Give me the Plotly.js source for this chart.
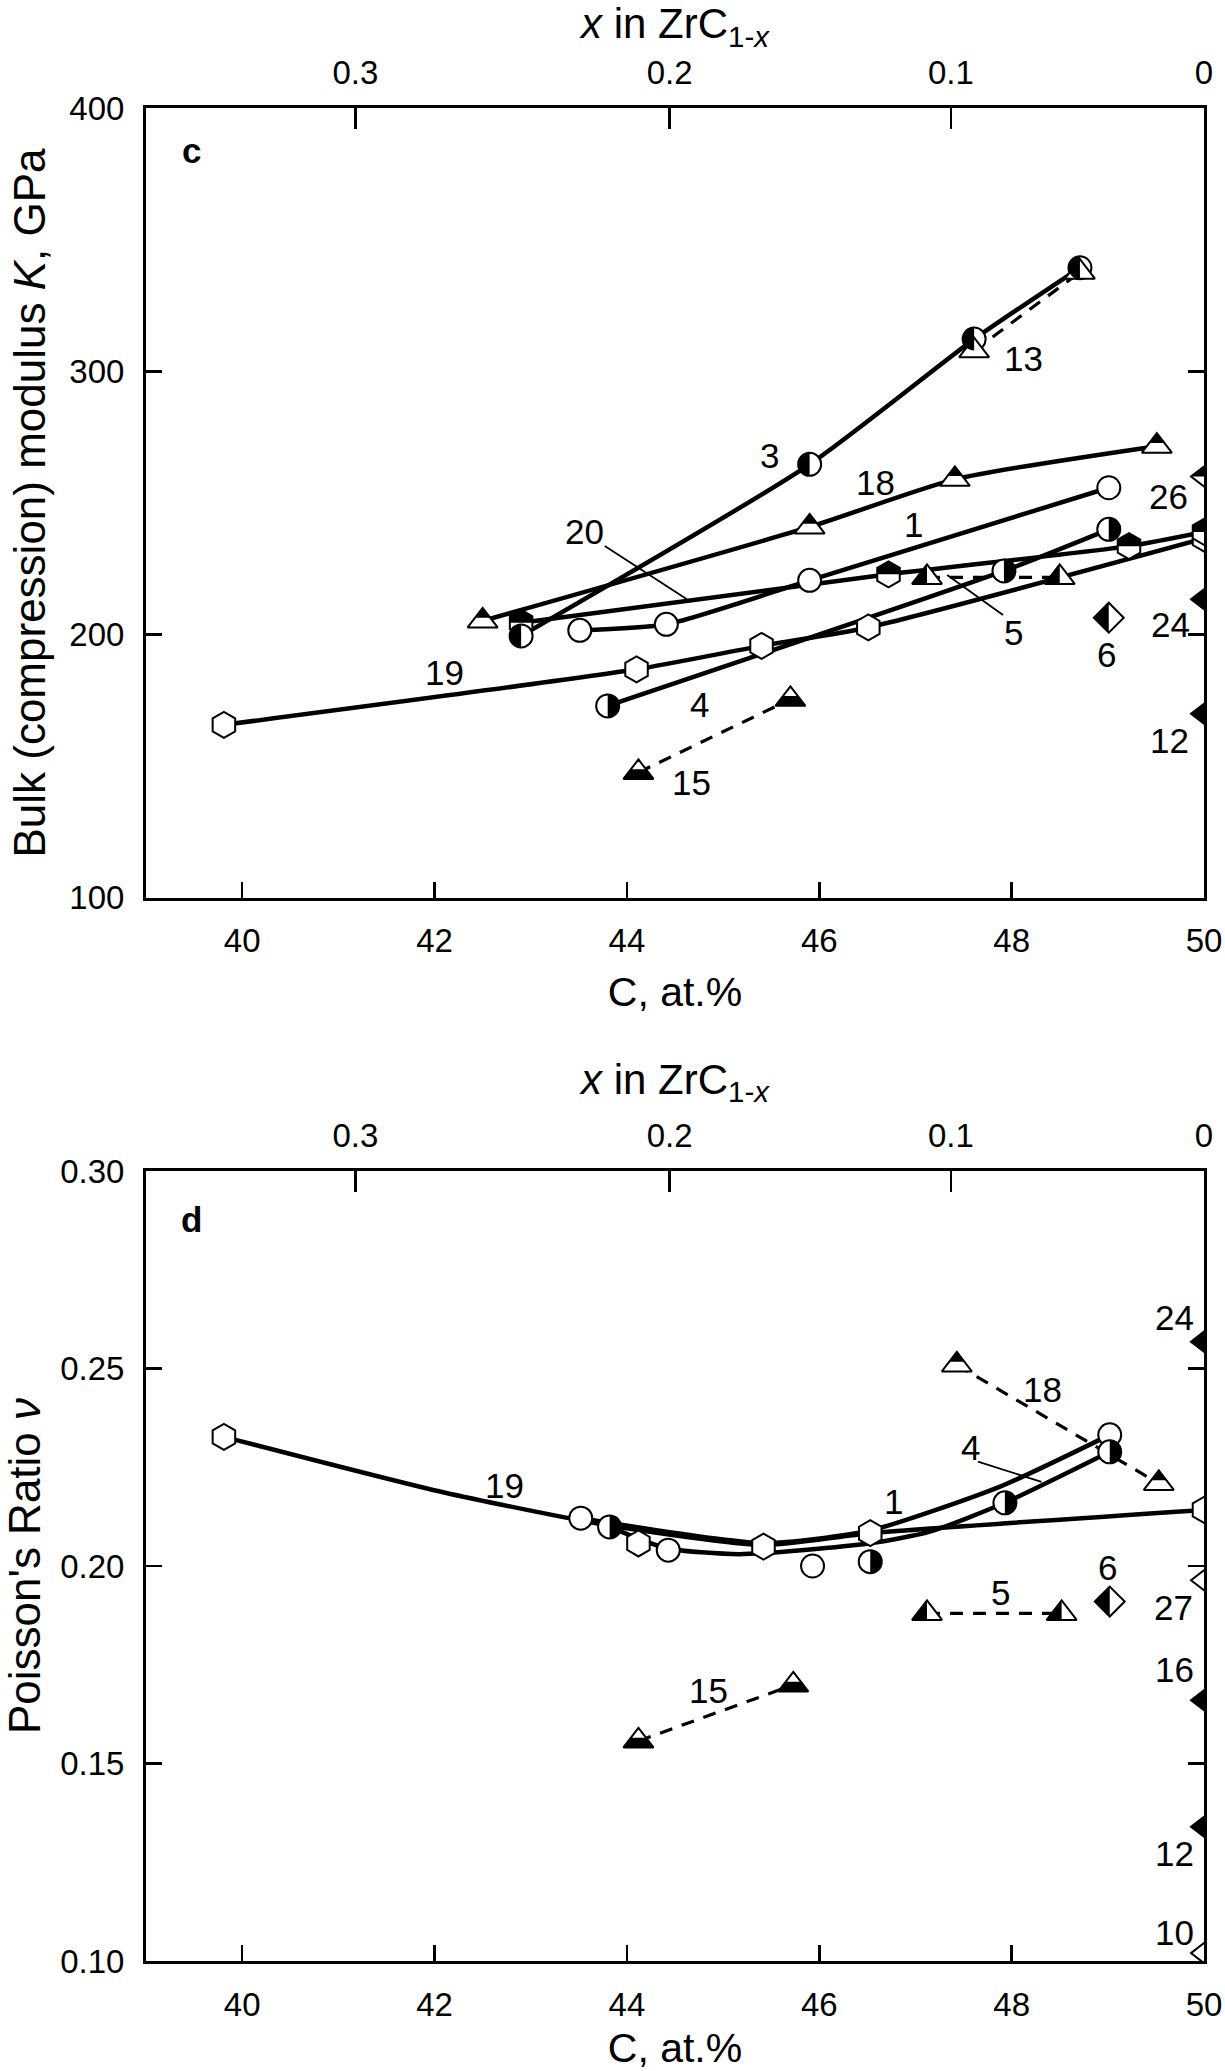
<!DOCTYPE html>
<html>
<head>
<meta charset="utf-8">
<script src="https://cdn.plot.ly/plotly-3.0.1.min.js"></script>
<style>
html,body{margin:0;padding:0;background:#ffffff;}
#chart{width:1225px;height:2071px;}
</style>
</head>
<body>
<div id="chart"></div>
<script>
// ---------------- Data ----------------
const xTickVals = [40, 42, 44, 46, 48, 50];          // C, at.%
const topTickX = [0.3, 0.2, 0.1, 0];                 // x in ZrC1-x
const kTickVals = [100, 200, 300, 400];
const nuTickVals = [0.10, 0.15, 0.20, 0.25, 0.30];

// Panel c : bulk modulus K, GPa
const c1_C  = [43.51, 44.41, 45.90, 49.01];        const c1_K  = [201.6, 203.9, 220.6, 255.8];
const c3_C  = [42.90, 45.90, 47.61, 48.71];        const c3_K  = [199.5, 264.7, 312.3, 339.4];
const c4_C  = [43.80, 47.92, 49.01];               const c4_K  = [172.9, 224.2, 240.0];
const c5_C  = [47.12, 48.50];                      const c5_K  = [221.7, 221.7];
const c6_C  = [49.01];                             const c6_K  = [206.4];
const c12_C = [50.00];                             const c12_K = [169.9];
const c13_C = [47.61, 48.71];                      const c13_K = [307.9, 337.7];
const c15_C = [44.12, 45.70];                      const c15_K = [147.6, 175.4];
const c18_C = [42.50, 45.90, 47.41, 49.51];        const c18_K = [205.2, 240.9, 259.0, 271.6];
const c19_C = [39.81, 44.10, 45.40, 46.51, 50.00]; const c19_K = [165.7, 186.8, 195.7, 202.7, 236.5];
const c20_C = [42.90, 46.72, 49.22, 50.00];        const c20_K = [204.5, 222.9, 233.6, 239.0];
const c24_C = [50.00];                             const c24_K = [213.4];
const c26_C = [50.00];                             const c26_K = [260.1];

const cLabelText = ['3', '13', '18', '1', '20', '26', '5', '6', '24', '19', '4', '15', '12'];
const cLabelC    = [45.48, 48.12, 46.58, 46.98, 43.56, 49.63, 48.02, 48.99, 49.65, 42.10, 44.75, 44.67, 49.64];
const cLabelK    = [268.0, 304.9, 257.6, 242.0, 239.3, 252.4, 200.6, 192.3, 203.8, 185.5, 173.4, 143.8, 159.9];
const cLeaderC   = [[43.77, 44.62], [47.33, 47.91]];   // leaders for "20" and "5"
const cLeaderK   = [[233.7, 213.5], [222.6, 207.4]];

// Panel d : Poisson's ratio
const d1_C  = [43.52, 44.43, 45.93, 49.02];        const d1_nu = [0.2121, 0.2040, 0.2000, 0.2332];
const d1_curveC  = [43.52, 45.42, 46.53, 47.88, 49.02];
const d1_curveNu = [0.2121, 0.2058, 0.2090, 0.2201, 0.2332];
const d4_C  = [43.82, 46.53, 47.93, 49.02];        const d4_nu = [0.2099, 0.2011, 0.2160, 0.2289];
const d4_curveC  = [43.82, 44.41, 45.17, 46.51, 47.15, 47.93, 49.02];
const d4_curveNu = [0.2099, 0.2045, 0.2030, 0.2057, 0.2087, 0.2160, 0.2289];
const d5_C  = [47.12, 48.52];                      const d5_nu = [0.1880, 0.1880];
const d6_C  = [49.02];                             const d6_nu = [0.1910];
const d10_C = [50.00];                             const d10_nu = [0.1020];
const d12_C = [50.00];                             const d12_nu = [0.1340];
const d15_C = [44.12, 45.73];                      const d15_nu = [0.1557, 0.1699];
const d16_C = [50.00];                             const d16_nu = [0.1660];
const d18_C = [47.43, 49.53];                      const d18_nu = [0.2509, 0.2209];
const d19_C = [39.81, 44.12, 45.42, 46.53, 50.00]; const d19_nu = [0.2327, 0.2057, 0.2049, 0.2083, 0.2142];
const d19_curveC  = [39.81, 42.10, 43.80, 45.42, 46.53, 50.00];
const d19_curveNu = [0.2327, 0.2186, 0.2103, 0.2053, 0.2083, 0.2142];
const d24_C = [50.00];                             const d24_nu = [0.2568];
const d27_C = [50.00];                             const d27_nu = [0.1964];

const dLabelText = ['19', '1', '18', '4', '5', '6', '27', '24', '16', '12', '10', '15'];
const dLabelC    = [42.73, 46.77, 48.32, 47.57, 47.88, 49.00, 49.68, 49.69, 49.69, 49.69, 49.69, 44.85];
const dLabelNu   = [0.2203, 0.2163, 0.2446, 0.2299, 0.1934, 0.1995, 0.1894, 0.2629, 0.1739, 0.1271, 0.1073, 0.1686];
const dLeaderC   = [[47.65, 48.31]];                 // leader for "4"
const dLeaderNu  = [[0.2264, 0.2213]];

// ---------------- Styling helpers ----------------
const FONT = 'Liberation Sans, Arial, Helvetica, sans-serif';
const SZ = {circle: 23, hexagon: 26, 'triangle-up': 26, diamond: 23, 'triangle-left': 26};

function topCfromX(x) { return 100 * (1 - x) / (2 - x); }   // at.% C for ZrC(1-x)

const traces = [];
const shapes = [];
const annotations = [];

function lineTrace(xs, ys, xa, ya, dashed) {
  traces.push({
    type: 'scatter', mode: 'lines', x: xs, y: ys, xaxis: xa, yaxis: ya,
    line: dashed ? {color: '#000', width: 3.2, dash: '13px,10px'}
                 : {color: '#000', width: 4.5, shape: 'spline', smoothing: 0.6},
    hoverinfo: 'skip', showlegend: false
  });
}

function f2(v) { return (Math.abs(v) < 0.005 ? 0 : v).toFixed(2); }

function halfPath(sym, part) {
  const r = SZ[sym] / 2;
  const rt = r * 2 / Math.sqrt(3);
  if (sym === 'circle') {
    const k = 0.5523 * r, s = part === 'left' ? -1 : 1;
    return 'M 0 ' + f2(r) + ' C ' + f2(s * k) + ' ' + f2(r) + ' ' + f2(s * r) + ' ' + f2(k) + ' ' + f2(s * r) + ' 0' +
           ' C ' + f2(s * r) + ' ' + f2(-k) + ' ' + f2(s * k) + ' ' + f2(-r) + ' 0 ' + f2(-r) + ' Z';
  }
  if (sym === 'triangle-up') {
    if (part === 'top') return 'M 0 ' + f2(r) + ' L ' + f2(rt / 2) + ' ' + f2(r / 4) + ' L ' + f2(-rt / 2) + ' ' + f2(r / 4) + ' Z';
    if (part === 'bottom') return 'M ' + f2(-rt) + ' ' + f2(-r / 2) + ' L ' + f2(rt) + ' ' + f2(-r / 2) + ' L ' + f2(rt / 2) + ' ' + f2(r / 4) + ' L ' + f2(-rt / 2) + ' ' + f2(r / 4) + ' Z';
    if (part === 'left') return 'M 0 ' + f2(r) + ' L 0 ' + f2(-r / 2) + ' L ' + f2(-rt) + ' ' + f2(-r / 2) + ' Z';
  }
  if (sym === 'hexagon') {
    const x = r * Math.sqrt(3) / 2;
    return 'M ' + f2(x) + ' 0 L ' + f2(x) + ' ' + f2(r / 2) + ' L 0 ' + f2(r) + ' L ' + f2(-x) + ' ' + f2(r / 2) + ' L ' + f2(-x) + ' 0 Z';
  }
  if (sym === 'diamond') {
    const rd = 1.3 * r;
    return 'M 0 ' + f2(rd) + ' L ' + f2(-rd) + ' 0 L 0 ' + f2(-rd) + ' Z';
  }
  if (sym === 'triangle-left') {
    return 'M ' + f2(r / 2) + ' ' + f2(rt) + ' L ' + f2(r / 2) + ' 0 L ' + f2(-r) + ' 0 Z';
  }
  return '';
}

function markerTrace(xs, ys, xa, ya, sym, fill, half) {
  traces.push({
    type: 'scatter', mode: 'markers', x: xs, y: ys, xaxis: xa, yaxis: ya, cliponaxis: true,
    marker: {symbol: sym, size: SZ[sym], color: fill, line: {color: '#000', width: 2}},
    hoverinfo: 'skip', showlegend: false
  });
  if (half) {
    const path = halfPath(sym, half);
    for (let i = 0; i < xs.length; i++) {
      shapes.push({
        type: 'path', xref: xa, yref: ya, xsizemode: 'pixel', ysizemode: 'pixel',
        xanchor: xs[i], yanchor: ys[i], path: path,
        fillcolor: '#000', line: {width: 0}, layer: 'above'
      });
    }
  }
}

function labels(texts, xs, ys, xa, ya) {
  for (let i = 0; i < texts.length; i++) {
    annotations.push({
      text: texts[i], x: xs[i], y: ys[i], xref: xa, yref: ya, showarrow: false,
      xanchor: 'center', yanchor: 'middle', font: {family: FONT, size: 35, color: '#000'}
    });
  }
}

function leaders(xsArr, ysArr, xa, ya) {
  for (let i = 0; i < xsArr.length; i++) {
    shapes.push({
      type: 'line', xref: xa, yref: ya, x0: xsArr[i][0], x1: xsArr[i][1], y0: ysArr[i][0], y1: ysArr[i][1],
      line: {color: '#000', width: 1.8}, layer: 'above'
    });
  }
}

// ---------------- Panel c ----------------
lineTrace(c19_C, c19_K, 'x', 'y');
lineTrace(c20_C, c20_K, 'x', 'y');
lineTrace(c1_C, c1_K, 'x', 'y');
lineTrace(c4_C, c4_K, 'x', 'y');
lineTrace(c18_C, c18_K, 'x', 'y');
lineTrace(c3_C, c3_K, 'x', 'y');
lineTrace(c13_C, c13_K, 'x', 'y', true);
lineTrace(c5_C, c5_K, 'x', 'y', true);
lineTrace(c15_C, c15_K, 'x', 'y', true);

markerTrace(c19_C, c19_K, 'x', 'y', 'hexagon', '#fff');
markerTrace(c20_C, c20_K, 'x', 'y', 'hexagon', '#fff', 'top');
markerTrace(c1_C, c1_K, 'x', 'y', 'circle', '#fff');
markerTrace(c4_C, c4_K, 'x', 'y', 'circle', '#fff', 'right');
markerTrace(c3_C, c3_K, 'x', 'y', 'circle', '#fff', 'left');
markerTrace(c13_C, c13_K, 'x', 'y', 'triangle-up', '#fff');
markerTrace(c18_C, c18_K, 'x', 'y', 'triangle-up', '#fff', 'top');
markerTrace(c5_C, c5_K, 'x', 'y', 'triangle-up', '#fff', 'left');
markerTrace(c15_C, c15_K, 'x', 'y', 'triangle-up', '#fff', 'bottom');
markerTrace(c6_C, c6_K, 'x', 'y', 'diamond', '#fff', 'left');
markerTrace(c26_C, c26_K, 'x', 'y', 'triangle-left', '#fff', 'top');
markerTrace(c24_C, c24_K, 'x', 'y', 'triangle-left', '#000');
markerTrace(c12_C, c12_K, 'x', 'y', 'triangle-left', '#000');

labels(cLabelText, cLabelC, cLabelK, 'x', 'y');
leaders(cLeaderC, cLeaderK, 'x', 'y');

// ---------------- Panel d ----------------
lineTrace(d19_curveC, d19_curveNu, 'x3', 'y2');
lineTrace(d1_curveC, d1_curveNu, 'x3', 'y2');
lineTrace(d4_curveC, d4_curveNu, 'x3', 'y2');
lineTrace(d18_C, d18_nu, 'x3', 'y2', true);
lineTrace(d5_C, d5_nu, 'x3', 'y2', true);
lineTrace(d15_C, d15_nu, 'x3', 'y2', true);

markerTrace(d19_C, d19_nu, 'x3', 'y2', 'hexagon', '#fff');
markerTrace(d1_C, d1_nu, 'x3', 'y2', 'circle', '#fff');
markerTrace(d4_C, d4_nu, 'x3', 'y2', 'circle', '#fff', 'right');
markerTrace(d18_C, d18_nu, 'x3', 'y2', 'triangle-up', '#fff', 'top');
markerTrace(d5_C, d5_nu, 'x3', 'y2', 'triangle-up', '#fff', 'left');
markerTrace(d15_C, d15_nu, 'x3', 'y2', 'triangle-up', '#fff', 'bottom');
markerTrace(d6_C, d6_nu, 'x3', 'y2', 'diamond', '#fff', 'left');
markerTrace(d24_C, d24_nu, 'x3', 'y2', 'triangle-left', '#000');
markerTrace(d27_C, d27_nu, 'x3', 'y2', 'triangle-left', '#fff');
markerTrace(d16_C, d16_nu, 'x3', 'y2', 'triangle-left', '#000');
markerTrace(d12_C, d12_nu, 'x3', 'y2', 'triangle-left', '#000');
markerTrace(d10_C, d10_nu, 'x3', 'y2', 'triangle-left', '#fff');

labels(dLabelText, dLabelC, dLabelNu, 'x3', 'y2');
leaders(dLeaderC, dLeaderNu, 'x3', 'y2');

// panel letters
annotations.push({text: '<b>c</b>', x: 39.47, y: 384.1, xref: 'x', yref: 'y', showarrow: false,
  xanchor: 'center', yanchor: 'middle', font: {family: FONT, size: 35, color: '#000'}});
annotations.push({text: '<b>d</b>', x: 39.47, y: 0.2878, xref: 'x3', yref: 'y2', showarrow: false,
  xanchor: 'center', yanchor: 'middle', font: {family: FONT, size: 35, color: '#000'}});

// top-axis tick positions (x in ZrC1-x -> C at.%)
const topTickC = topTickX.map(topCfromX);
const topTickText = topTickX.map(v => String(v));
// carrier traces so the top axes exist
traces.push({type: 'scatter', mode: 'markers', x: topTickC, y: topTickC.map(() => null),
  xaxis: 'x2', yaxis: 'y', hoverinfo: 'skip', showlegend: false, marker: {opacity: 0}});
traces.push({type: 'scatter', mode: 'markers', x: topTickC, y: topTickC.map(() => null),
  xaxis: 'x4', yaxis: 'y2', hoverinfo: 'skip', showlegend: false, marker: {opacity: 0}});

// ---------------- Layout ----------------
const W = 1225, H = 2071;
const xDom = [146 / W, 1204 / W];
const yDomC = [(H - 897.7) / H, (H - 108.3) / H];
const yDomD = [(H - 1961) / H, (H - 1171) / H];

const tickFont = {family: FONT, size: 33, color: '#000'};
const xTitleFont = {family: FONT, size: 41, color: '#000'};
const topTitleFont = {family: FONT, size: 42, color: '#000'};
const yTitleFont = {family: FONT, size: 44, color: '#000'};

function bottomX(anchor) {
  return {
    domain: xDom, anchor: anchor, range: [39, 50], tickmode: 'array', tickvals: xTickVals,
    ticks: 'inside', ticklen: 16, tickwidth: 2.5, tickcolor: '#000',
    showline: true, linewidth: 3, linecolor: '#000', mirror: false,
    showgrid: false, zeroline: false, tickfont: tickFont, ticklabelstandoff: 12,
    title: {text: 'C, at.%', font: xTitleFont, standoff: 20}, automargin: false, fixedrange: true
  };
}
function topX(over, anchor) {
  return {
    overlaying: over, side: 'top', anchor: anchor, range: [39, 50], tickmode: 'array',
    tickvals: topTickC, ticktext: topTickText,
    ticks: 'inside', ticklen: 21, tickwidth: 2.5, tickcolor: '#000',
    showline: true, linewidth: 3, linecolor: '#000',
    showgrid: false, zeroline: false, tickfont: tickFont, ticklabelstandoff: 8,
    title: {text: '<i>x</i> in ZrC<sub>1-<i>x</i></sub>', font: topTitleFont, standoff: 10},
    automargin: false, fixedrange: true
  };
}
function leftY(dom, anchor, range, vals, fmt, title) {
  return {
    domain: dom, anchor: anchor, range: range, tickmode: 'array', tickvals: vals, tickformat: fmt,
    ticks: 'inside', ticklen: 16, tickwidth: 2.5, tickcolor: '#000',
    showline: true, linewidth: 3, linecolor: '#000', mirror: 'ticks',
    showgrid: false, zeroline: false, tickfont: tickFont, ticklabelstandoff: 12,
    title: {text: title, font: yTitleFont, standoff: 10}, automargin: false, fixedrange: true
  };
}

const layout = {
  width: W, height: H,
  margin: {l: 0, r: 0, t: 0, b: 0, pad: 0},
  paper_bgcolor: '#fff', plot_bgcolor: '#fff',
  font: {family: FONT, color: '#000', size: 33},
  showlegend: false,
  xaxis: bottomX('y'),
  xaxis2: topX('x', 'y'),
  yaxis: leftY(yDomC, 'x', [100, 400], kTickVals, 'd', 'Bulk (compression) modulus <i>K</i>, GPa'),
  xaxis3: bottomX('y2'),
  xaxis4: topX('x3', 'y2'),
  yaxis2: leftY(yDomD, 'x3', [0.10, 0.30], nuTickVals, '.2f', "Poisson's Ratio <i>ν</i>"),
  shapes: shapes,
  annotations: annotations
};

Plotly.newPlot('chart', traces, layout, {displayModeBar: false, staticPlot: true});
</script>
</body>
</html>
